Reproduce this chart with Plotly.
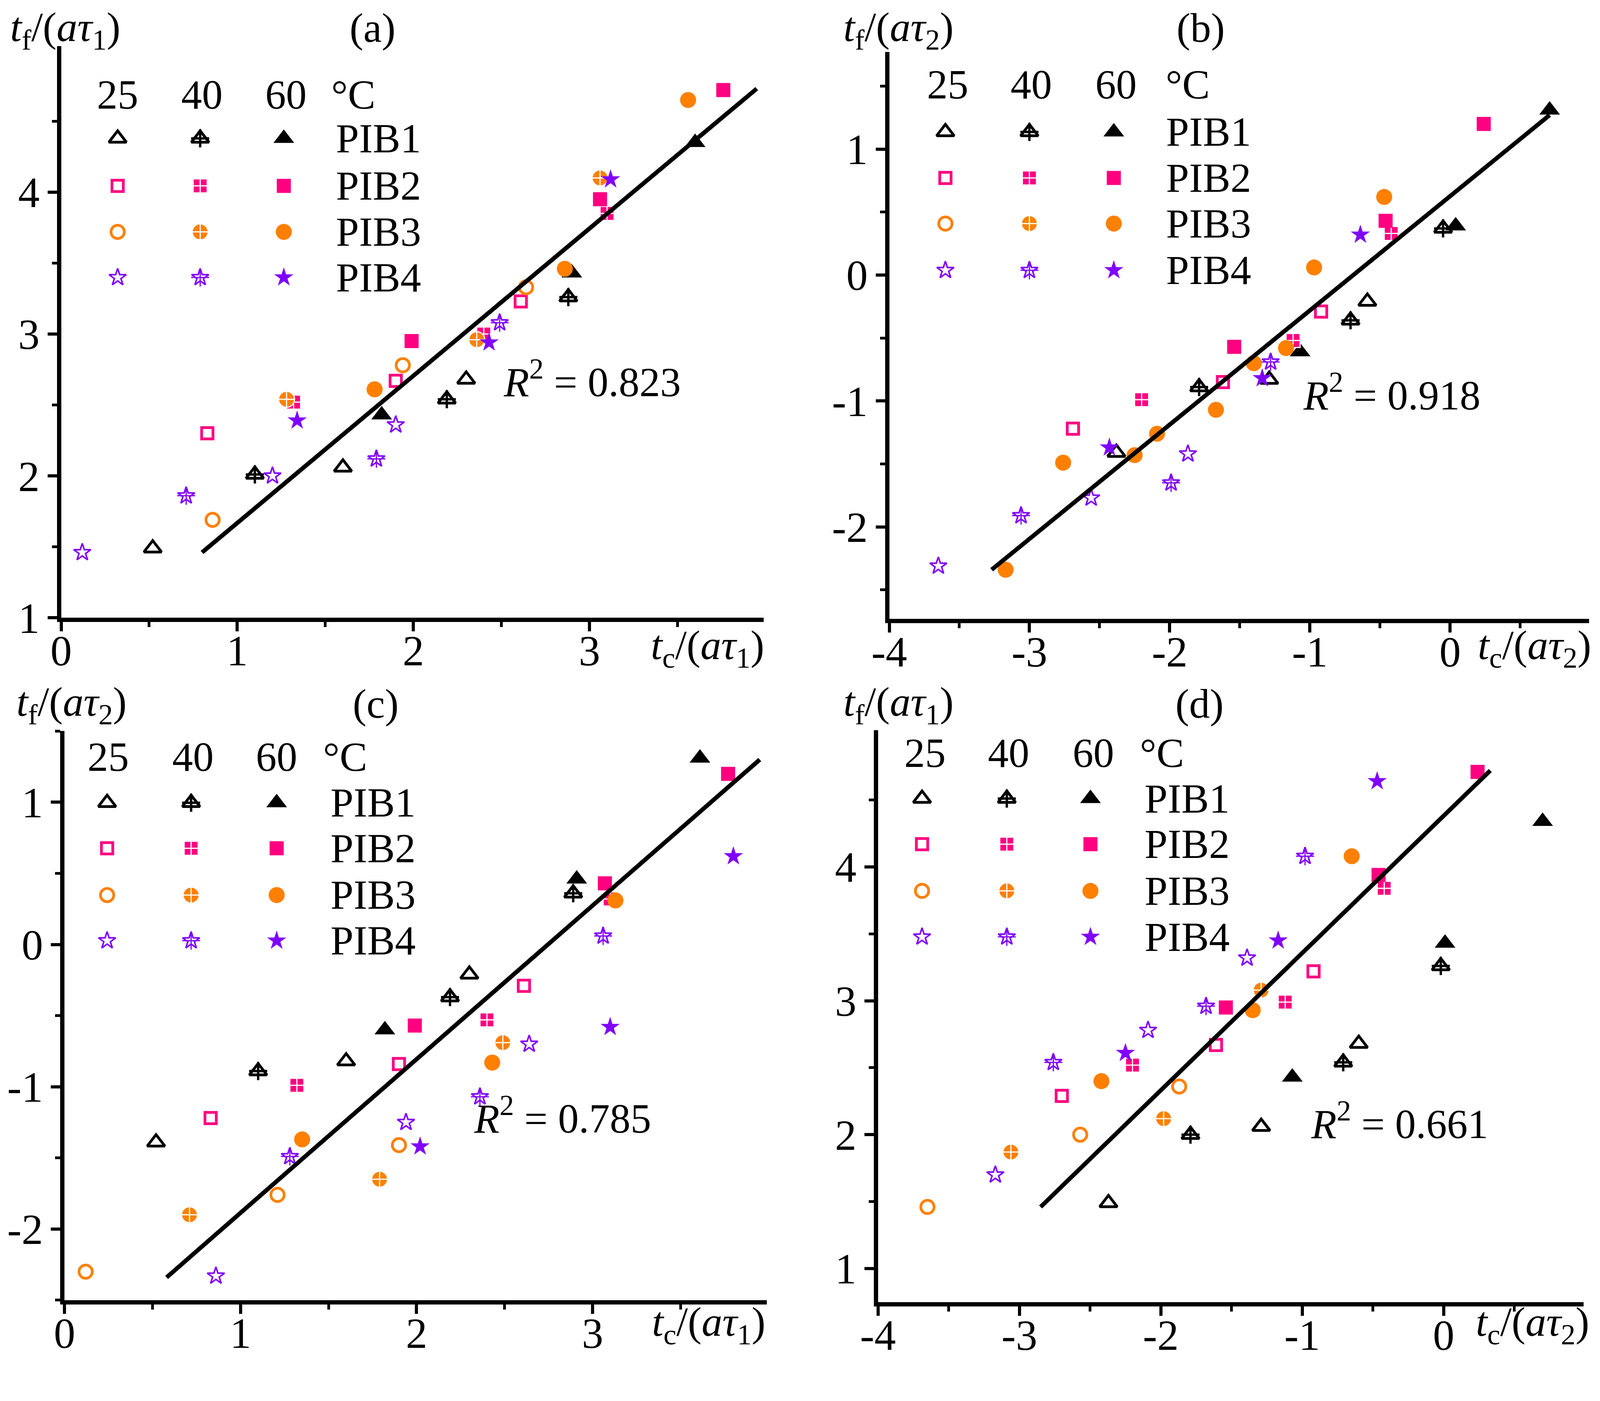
import plotly.graph_objects as go

# positions below are given on a 4230 x 3586 canvas, scaled by K into figure pixels
W, H = 4230, 3586
K = 0.9645
FIG_W, FIG_H = 4080, 3540
FONT = "Liberation Serif, Times New Roman, serif"

GROUPS = ["PIB1", "PIB2", "PIB3", "PIB4"]
TEMPS = ["25", "40", "60"]
COLORS = {"PIB1": "#000000", "PIB2": "#FF0080", "PIB3": "#FF8000", "PIB4": "#8000FF"}

# rows: PIB1-25, PIB1-40, PIB1-60, PIB2-25, ... PIB4-60
# (a) x = tc/(a tau1), y = tf/(a tau1)
A_X = [[0.52, 1.60, 2.30], [1.10, 2.19, 2.88], [1.82, 2.90, 3.60],
       [0.83, 1.90, 2.61], [1.32, 2.40, 3.10], [1.99, 3.06, 3.76],
       [0.86, 1.94, 2.64], [1.28, 2.36, 3.06], [1.78, 2.86, 3.56],
       [0.12, 1.20, 1.90], [0.71, 1.79, 2.49], [1.34, 2.43, 3.12]]
A_Y = [[1.49, 2.06, 2.68], [2.01, 2.54, 3.26], [2.43, 3.43, 4.35],
       [2.30, 2.67, 3.23], [2.52, 3.00, 3.85], [2.95, 3.95, 4.72],
       [1.69, 2.78, 3.33], [2.54, 2.96, 4.10], [2.61, 3.46, 4.65],
       [1.46, 2.00, 2.36], [1.86, 2.12, 3.08], [2.39, 2.94, 4.09]]

# (b) x = tc/(a tau2), y = tf/(a tau2)  (all PIB3 points drawn filled)
B_X = [[-2.38, -1.29, -0.59], [-1.79, -0.71, -0.05], [-1.07, 0.04, 0.71],
       [-2.69, -1.62, -0.92], [-2.20, -1.12, -0.42], [-1.54, -0.46, 0.24],
       [], [], [-3.17, -2.76, -2.25, -2.09, -1.67, -1.40, -1.17, -0.97, -0.47],
       [-3.65, -2.56, -1.87], [-3.06, -1.99, -1.28], [-2.43, -1.34, -0.64]]
B_Y = [[-1.41, -0.83, -0.21], [-0.89, -0.36, 0.37], [-0.61, 0.39, 1.31],
       [-1.22, -0.85, -0.29], [-0.99, -0.52, 0.33], [-0.57, 0.43, 1.20],
       [], [], [-2.34, -1.49, -1.43, -1.26, -1.07, -0.70, -0.58, 0.06, 0.62],
       [-2.31, -1.77, -1.42], [-1.91, -1.65, -0.69], [-1.37, -0.82, 0.32]]

# (c) x = tc/(a tau1), y = tf/(a tau2)
C_X = [[0.52, 1.60, 2.30], [1.10, 2.19, 2.89], [1.82, 2.91, 3.61],
       [0.83, 1.90, 2.61], [1.32, 2.40, 3.10], [1.99, 3.07, 3.77],
       [0.12, 1.21, 1.90], [0.71, 1.79, 2.49], [1.35, 2.43, 3.13],
       [0.86, 1.94, 2.64], [1.28, 2.36, 3.06], [2.02, 3.10, 3.80]]
C_Y = [[-1.39, -0.82, -0.21], [-0.89, -0.37, 0.36], [-0.60, 0.46, 1.31],
       [-1.22, -0.84, -0.29], [-0.99, -0.53, 0.32], [-0.57, 0.43, 1.20],
       [-2.30, -1.76, -1.41], [-1.90, -1.65, -0.69], [-1.37, -0.83, 0.31],
       [-2.33, -1.25, -0.70], [-1.49, -1.07, 0.06], [-1.42, -0.58, 0.62]]

# (d) x = tc/(a tau2), y = tf/(a tau1)
D_X = [[-2.37, -1.29, -0.60], [-1.79, -0.71, -0.02], [-1.07, 0.01, 0.70],
       [-2.70, -1.61, -0.92], [-2.20, -1.12, -0.42], [-1.54, -0.46, 0.24],
       [-3.65, -2.57, -1.87], [-3.06, -1.98, -1.29], [-2.42, -1.35, -0.65],
       [-3.17, -2.09, -1.39], [-2.76, -1.68, -0.98], [-2.25, -1.17, -0.47]]
D_Y = [[1.49, 2.06, 2.68], [2.00, 2.54, 3.26], [2.43, 3.43, 4.34],
       [2.29, 2.67, 3.22], [2.52, 2.99, 3.84], [2.95, 3.94, 4.71],
       [1.46, 2.00, 2.36], [1.87, 2.12, 3.08], [2.40, 2.93, 4.08],
       [1.70, 2.78, 3.32], [2.54, 2.96, 4.08], [2.61, 3.45, 4.64]]

# fitted lines (end points) and R^2
FIT_A = ([0.80, 3.95], [1.46, 4.73])
FIT_B = ([-3.27, 0.71], [-2.34, 1.27])
FIT_C = ([0.58, 3.95], [-2.34, 1.30])
FIT_D = ([-2.85, 0.33], [1.46, 4.72])
R2 = ["0.823", "0.918", "0.785", "0.661"]

TAU1 = "<i>τ</i><sub>1</sub>"
TAU2 = "<i>τ</i><sub>2</sub>"


def marker_layers(group, temp):
    c = COLORS[group]
    base = {"PIB1": "triangle-up", "PIB2": "square", "PIB3": "circle", "PIB4": "star"}[group]
    full = {"PIB1": 46, "PIB2": 36, "PIB3": 41, "PIB4": 37}[group]
    lw = {"PIB1": 7, "PIB2": 7, "PIB3": 7, "PIB4": 4}[group]
    if temp == "60":
        return [dict(symbol=base, size=full, color=c, line=dict(width=0))]
    if temp == "25":
        return [dict(symbol=base, size=full - lw, color="white", line=dict(color=c, width=lw))]
    if group in ("PIB2", "PIB3"):
        return [dict(symbol=base + "-cross", size=full, color=c, line=dict(color="white", width=3))]
    return [dict(symbol=base, size=full - lw, color="white", line=dict(color=c, width=lw)),
            dict(symbol="cross-thin-open", size=33, color=c, line=dict(color=c, width=lw - 1))]


def fx(x):
    return x * K / FIG_W


def fy(y):
    return 1 - y * K / FIG_H


fig = go.Figure()

panels = [
    dict(name="a", xs=A_X, ys=A_Y, fit=FIT_A, r2=R2[0],
         dx=(154, 2019), dy=(114, 1631),
         xr=[0, 3.99], xt=[0, 1, 2, 3], xm=[0.5, 1.5, 2.5, 3.5],
         yr=[1, 5.03], yt=[1, 2, 3, 4], ym=[1.5, 2.5, 3.5, 4.5],
         ytitle="<i>t</i><sub>f</sub>/(<i>a</i>" + TAU1 + ")", yt_pos=(165, 72),
         xtitle="<i>t</i><sub>c</sub>/(<i>a</i>" + TAU1 + ")", xt_pos=(1870, 1712),
         lab_pos=(981, 66), r2_pos=(1564, 997),
         hdr_y=243, hdr_x=[304, 528, 751, 930], rows=[359, 485, 607, 728],
         mk_x=[304, 523, 745], name_x=881),
    dict(name="b", xs=B_X, ys=B_Y, fit=FIT_B, r2=R2[1],
         dx=(2352, 4209), dy=(130, 1634),
         xr=[-4, 0.99], xt=[-4, -3, -2, -1, 0], xm=[-3.5, -2.5, -1.5, -0.5, 0.5],
         yr=[-2.73, 1.77], yt=[-2, -1, 0, 1], ym=[-2.5, -1.5, -0.5, 0.5, 1.5],
         ytitle="<i>t</i><sub>f</sub>/(<i>a</i>" + TAU2 + ")", yt_pos=(2376, 72),
         xtitle="<i>t</i><sub>c</sub>/(<i>a</i>" + TAU2 + ")", xt_pos=(4065, 1712),
         lab_pos=(3179, 66), r2_pos=(3686, 1033),
         hdr_y=216, hdr_x=[2507, 2729, 2954, 3144], rows=[342, 464, 585, 709],
         mk_x=[2501, 2724, 2948], name_x=3084),
    dict(name="c", xs=C_X, ys=C_Y, fit=FIT_C, r2=R2[2],
         dx=(163, 2027), dy=(1932, 3442),
         xr=[0, 3.99], xt=[0, 1, 2, 3], xm=[0.5, 1.5, 2.5, 3.5],
         yr=[-2.5, 1.5], yt=[-2, -1, 0, 1], ym=[-2.5, -1.5, -0.5, 0.5, 1.5],
         ytitle="<i>t</i><sub>f</sub>/(<i>a</i>" + TAU2 + ")", yt_pos=(181, 1862),
         xtitle="<i>t</i><sub>c</sub>/(<i>a</i>" + TAU1 + ")", xt_pos=(1873, 3508),
         lab_pos=(989, 1860), r2_pos=(1485, 2952),
         hdr_y=2000, hdr_x=[279, 504, 726, 908], rows=[2122, 2243, 2367, 2488],
         mk_x=[276, 499, 726], name_x=867),
    dict(name="d", xs=D_X, ys=D_Y, fit=FIT_D, r2=R2[3],
         dx=(2322, 4195), dy=(1930, 3447),
         xr=[-4, 0.99], xt=[-4, -3, -2, -1, 0], xm=[-3.5, -2.5, -1.5, -0.5, 0.5],
         yr=[0.75, 5.02], yt=[1, 2, 3, 4], ym=[1.5, 2.5, 3.5, 4.5],
         ytitle="<i>t</i><sub>f</sub>/(<i>a</i>" + TAU1 + ")", yt_pos=(2376, 1862),
         xtitle="<i>t</i><sub>c</sub>/(<i>a</i>" + TAU2 + ")", xt_pos=(4060, 3508),
         lab_pos=(3176, 1860), r2_pos=(3707, 2966),
         hdr_y=1990, hdr_x=[2447, 2669, 2894, 3076], rows=[2111, 2232, 2356, 2478],
         mk_x=[2439, 2664, 2886], name_x=3027),
]

annotations = []
axis_common = dict(showline=True, linewidth=11, linecolor="black", mirror=False,
                   showgrid=False, zeroline=False, ticks="outside", ticklen=24,
                   tickwidth=8, tickcolor="black",
                   tickfont=dict(family=FONT, size=110, color="black"),
                   automargin=False, fixedrange=True)
minor_common = dict(tickmode="array", ticks="outside", ticklen=13, tickwidth=7,
                    tickcolor="black")

for i, p in enumerate(panels, start=1):
    xa, ya = "x%d" % i, "y%d" % i
    k = 0
    for g in GROUPS:
        for t in TEMPS:
            for m in marker_layers(g, t):
                fig.add_trace(go.Scatter(x=p["xs"][k], y=p["ys"][k], mode="markers",
                                         marker=m, xaxis=xa, yaxis=ya,
                                         showlegend=False, cliponaxis=False))
            k += 1
    fig.add_trace(go.Scatter(x=p["fit"][0], y=p["fit"][1], mode="lines",
                             line=dict(color="black", width=11),
                             xaxis=xa, yaxis=ya, showlegend=False))

    suffix = "" if i == 1 else str(i)
    fig.layout["xaxis" + suffix] = dict(
        axis_common, domain=[fx(p["dx"][0]), fx(p["dx"][1])], range=p["xr"],
        anchor=ya, tickmode="array", tickvals=p["xt"],
        ticktext=[str(v) for v in p["xt"]], ticklabelstandoff=-45,
        minor=dict(minor_common, tickvals=p["xm"]))
    fig.layout["yaxis" + suffix] = dict(
        axis_common, domain=[fy(p["dy"][1]), fy(p["dy"][0])], range=p["yr"],
        anchor=xa, tickmode="array", tickvals=p["yt"],
        ticktext=[str(v) for v in p["yt"]], ticklabelstandoff=-2,
        minor=dict(minor_common, tickvals=p["ym"]))

    def note(text, pos, xanchor="center", size=106):
        annotations.append(dict(text=text, x=fx(pos[0]), y=fy(pos[1]),
                                xref="paper", yref="paper",
                                xanchor=xanchor, yanchor="middle", showarrow=False,
                                font=dict(family=FONT, size=size, color="black")))

    note(p["ytitle"], p["yt_pos"])
    note(p["xtitle"], p["xt_pos"])
    note("(%s)" % p["name"], p["lab_pos"])
    note("<i>R</i><sup>2</sup> = " + p["r2"], p["r2_pos"])
    for j, t in enumerate(TEMPS + ["°C"]):
        note(t, (p["hdr_x"][j], p["hdr_y"]))
    for r, g in enumerate(GROUPS):
        note(g, (p["name_x"], p["rows"][r]), xanchor="left")
        for j, t in enumerate(TEMPS):
            for m in marker_layers(g, t):
                fig.add_trace(go.Scatter(x=[p["mk_x"][j]], y=[p["rows"][r]], mode="markers",
                                         marker=m, xaxis="x5", yaxis="y5",
                                         showlegend=False, cliponaxis=False))

fig.layout["xaxis5"] = dict(domain=[0, 1], range=[0, FIG_W / K], visible=False, anchor="y5",
                            automargin=False, fixedrange=True)
fig.layout["yaxis5"] = dict(domain=[0, 1], range=[FIG_H / K, 0], visible=False, anchor="x5",
                            automargin=False, fixedrange=True)

fig.update_layout(width=FIG_W, height=FIG_H, margin=dict(l=0, r=0, t=0, b=0, autoexpand=False),
                  paper_bgcolor="white", plot_bgcolor="rgba(0,0,0,0)",
                  annotations=annotations, showlegend=False)

fig.write_html("out.html")
